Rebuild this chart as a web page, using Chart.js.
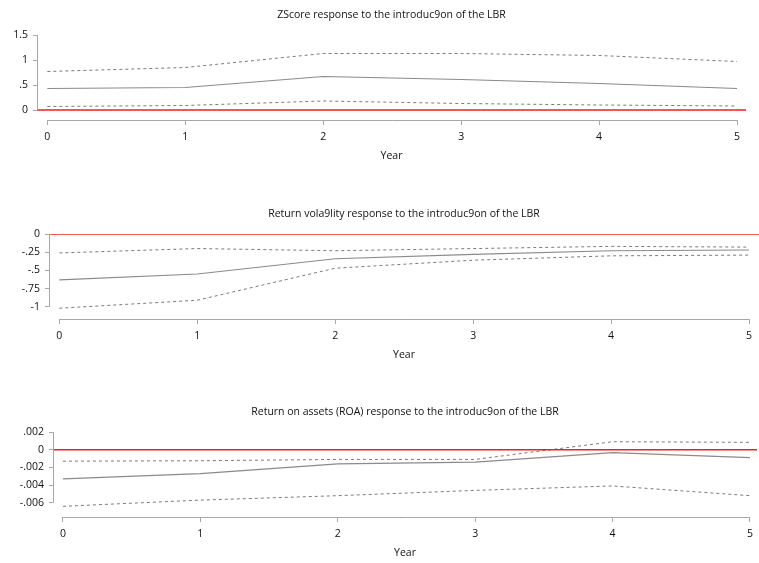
<!DOCTYPE html>
<html>
<head>
<meta charset="utf-8">
<script src="https://cdn.jsdelivr.net/npm/chart.js@4.4.1/dist/chart.umd.min.js"></script>
<style>
  body { margin: 0; background: #fff; width: 759px; height: 563px; position: relative; overflow: hidden; }
  canvas { position: absolute; left: 0; }
</style>
</head>
<body>
<canvas id="zscore" width="759" height="166" style="top:0px"></canvas>
<canvas id="volatility" width="759" height="166" style="top:199px"></canvas>
<canvas id="roa" width="759" height="166" style="top:397px"></canvas>
<script>
// Years after the introduction of the LBR
const years = [0, 1, 2, 3, 4, 5];

// ZScore response (upper bound, point estimate, lower bound)
const zUpper = [0.77, 0.85, 1.13, 1.13, 1.09, 0.97];
const zMid   = [0.43, 0.45, 0.67, 0.61, 0.53, 0.43];
const zLower = [0.07, 0.09, 0.18, 0.13, 0.10, 0.08];
const zTicks = [0, 0.5, 1, 1.5];

// Return volatility response
const vUpper = [-0.26, -0.20, -0.23, -0.20, -0.17, -0.18];
const vMid   = [-0.63, -0.55, -0.34, -0.28, -0.23, -0.22];
const vLower = [-1.02, -0.91, -0.47, -0.36, -0.30, -0.29];
const vTicks = [-1, -0.75, -0.5, -0.25, 0];

// Return on assets (ROA) response
const rUpper = [-0.0013, -0.00125, -0.0011, -0.0011, 0.0009, 0.00083];
const rMid   = [-0.0033, -0.0027, -0.0016, -0.0014, -0.00034, -0.0009];
const rLower = [-0.0064, -0.0057, -0.0052, -0.0046, -0.0041, -0.0052];
const rTicks = [-0.006, -0.004, -0.002, 0, 0.002];

const xTicks = [0, 1, 2, 3, 4, 5];

const FONT = "'Open Sans', 'DejaVu Sans', sans-serif";
const FSIZE = 10.5;
const lineGray = '#8a8a8a';
const dashGray = '#7a7a7a';
const axisGray = '#a8a8a8';
const zeroRed = '#f01e1e';

// stata style tick labels: .5, -.25, .002
function stataNum(v) {
    if (v === 0) return '0';
    return String(v).replace(/^(-?)0\./, '$1.');
}

// axis lines only span the tick range, like the original figure
const axisLines = {
    id: 'axisLines',
    afterDraw(chart) {
        const { ctx, chartArea, scales: { x, y } } = chart;
        const yv = y.ticks.map(t => t.value);
        const xv = x.ticks.map(t => t.value);
        ctx.save();
        ctx.strokeStyle = axisGray;
        ctx.lineWidth = 1;
        ctx.beginPath();
        const lx = Math.round(chartArea.left) + 0.5;
        ctx.moveTo(lx, y.getPixelForValue(Math.max(...yv)));
        ctx.lineTo(lx, y.getPixelForValue(Math.min(...yv)));
        const by = Math.round(chartArea.bottom) + 0.5;
        ctx.moveTo(x.getPixelForValue(Math.min(...xv)), by);
        ctx.lineTo(x.getPixelForValue(Math.max(...xv)), by);
        ctx.stroke();
        ctx.restore();
    }
};

function makeChart(id, cfg) {
    const pts = arr => years.map((yr, i) => ({ x: yr, y: arr[i] }));
    const textFont = { family: FONT, size: FSIZE };
    new Chart(document.getElementById(id), {
        type: 'line',
        data: {
            datasets: [
                { data: [{ x: cfg.xMin, y: 0 }, { x: cfg.xMax, y: 0 }], borderColor: zeroRed, borderWidth: 1.5 },
                { data: pts(cfg.upper), borderColor: dashGray, borderWidth: 1, borderDash: [3, 3] },
                { data: pts(cfg.mid), borderColor: lineGray, borderWidth: 1.2 },
                { data: pts(cfg.lower), borderColor: dashGray, borderWidth: 1, borderDash: [3, 3] }
            ]
        },
        options: {
            responsive: false,
            animation: false,
            layout: { padding: { left: 0, right: cfg.padRight, top: 0, bottom: 0 } },
            elements: { point: { radius: 0 }, line: { tension: 0 } },
            plugins: {
                legend: { display: false },
                tooltip: { enabled: false }
            },
            scales: {
                // empty top axis, only used to centre the title over the plot
                top: {
                    type: 'linear',
                    position: 'top',
                    min: cfg.xMin,
                    max: cfg.xMax,
                    afterBuildTicks: s => { s.ticks = []; },
                    afterFit: s => { s.height = 35; },
                    border: { display: false },
                    grid: { display: false },
                    ticks: { display: false },
                    title: {
                        display: true,
                        text: cfg.title,
                        color: '#111',
                        font: textFont,
                        padding: { top: 8.7, bottom: 0 }
                    }
                },
                x: {
                    type: 'linear',
                    min: cfg.xMin,
                    max: cfg.xMax,
                    afterBuildTicks: s => { s.ticks = xTicks.map(v => ({ value: v })); },
                    afterFit: s => { s.height = 46; },
                    border: { display: false },
                    grid: { drawOnChartArea: false, drawTicks: true, tickLength: 5, color: axisGray },
                    ticks: { color: '#111', font: textFont, padding: 6, maxRotation: 0 },
                    title: {
                        display: true,
                        text: 'Year',
                        color: '#111',
                        font: textFont,
                        padding: { top: 0, bottom: 4 }
                    }
                },
                y: {
                    min: cfg.yMin,
                    max: cfg.yMax,
                    afterBuildTicks: s => { s.ticks = cfg.ticks.map(v => ({ value: v })); },
                    afterFit: s => { s.width = cfg.yWidth; },
                    border: { display: false },
                    grid: { drawOnChartArea: false, drawTicks: true, tickLength: 4, color: axisGray },
                    ticks: { color: '#111', font: textFont, padding: 5, callback: v => stataNum(v) }
                }
            }
        },
        plugins: [axisLines]
    });
}

makeChart('zscore', {
    title: 'ZScore response to the introduc9on of the LBR',
    upper: zUpper, mid: zMid, lower: zLower, ticks: zTicks,
    yMin: -0.2, yMax: 1.5, xMin: -0.075, xMax: 5.065, yWidth: 37, padRight: 13
});

makeChart('volatility', {
    title: 'Return vola9lity response to the introduc9on of the LBR',
    upper: vUpper, mid: vMid, lower: vLower, ticks: vTicks,
    yMin: -1.168, yMax: 0, xMin: -0.075, xMax: 5.0725, yWidth: 49, padRight: 0
});

makeChart('roa', {
    title: 'Return on assets (ROA) response to the introduc9on of the LBR',
    upper: rUpper, mid: rMid, lower: rLower, ticks: rTicks,
    yMin: -0.00761, yMax: 0.002, xMin: -0.0725, xMax: 5.051, yWidth: 53, padRight: 0
});
</script>
</body>
</html>
